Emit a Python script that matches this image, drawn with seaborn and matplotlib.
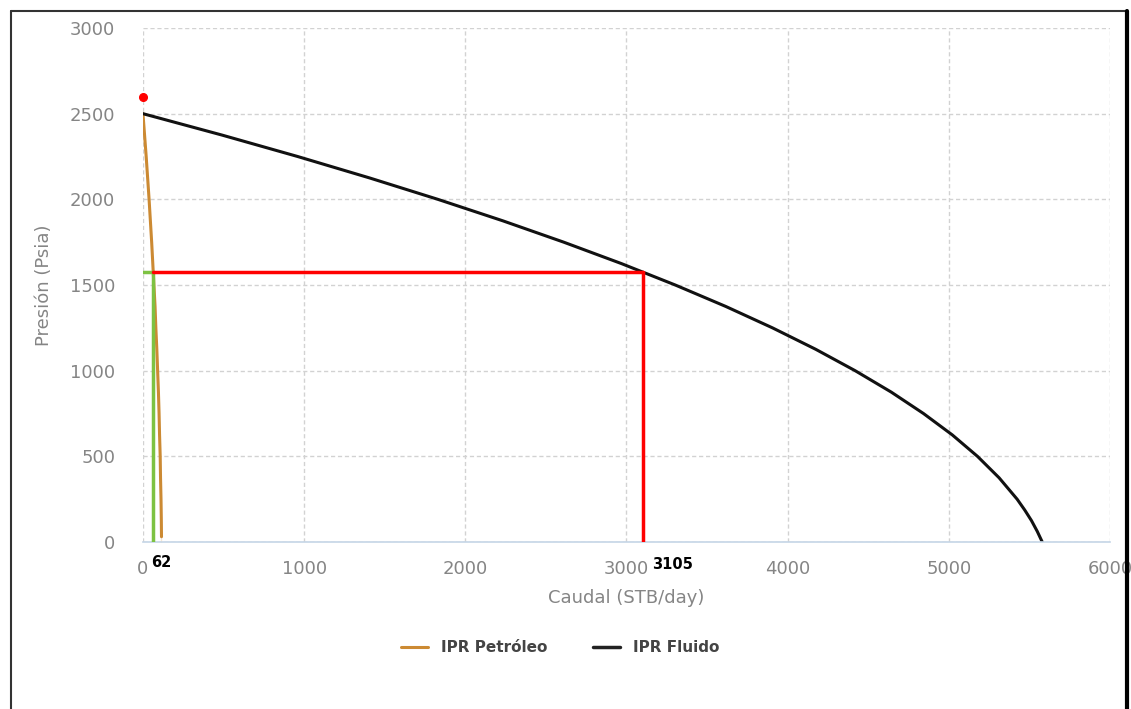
import numpy as np
import pandas as pd
import matplotlib
matplotlib.use('Agg')
import matplotlib.pyplot as plt
import seaborn as sns
from matplotlib.lines import Line2D

# IPR curves (pressure in psia, rate in STB/day)
pressure = [2500, 2375, 2250, 2125, 2000, 1875, 1750, 1625, 1500, 1375, 1250, 1125,
            1000, 875, 750, 625, 500, 375, 250, 187, 125, 62, 0]
q_fluid = [0, 491, 960, 1406, 1830, 2232, 2611, 2969, 3303, 3616, 3906, 4174,
           4419, 4643, 4843, 5022, 5178, 5312, 5424, 5471, 5513, 5549, 5580]
q_oil = [0, 10, 20, 29, 38, 46, 54, 61, 68, 75, 80, 86,
         91, 96, 100, 103, 107, 109, 112, 113, 114, 115, 115]

# operating point and reservoir pressure marker
p_wf = 1575
q_op_oil = 62
q_op_fluid = 3105
p_res_marker = 2600

x_ticks = [0, 1000, 2000, 3000, 4000, 5000, 6000]
y_ticks = [0, 500, 1000, 1500, 2000, 2500, 3000]

df = pd.DataFrame({'pressure': pressure, 'fluid': q_fluid, 'oil': q_oil})

sns.set_style('white')
plt.rcParams['font.family'] = ['DejaVu Sans']

fig = plt.figure(figsize=(11.31, 7.09), dpi=100)
ax = fig.add_axes([0.1264, 0.2355, 0.855, 0.725])

sns.lineplot(data=df, x='oil', y='pressure', sort=False, color='#cc8a33', lw=2.2, ax=ax, label='IPR Petróleo')
sns.lineplot(data=df, x='fluid', y='pressure', sort=False, color='#111111', lw=2.2, ax=ax, label='IPR Fluido')

# operating point lines
ax.plot([0, q_op_oil], [p_wf, p_wf], color='#7dc242', lw=2.5, zorder=4)
ax.plot([q_op_oil, q_op_oil], [0, p_wf], color='#7dc242', lw=2.5, zorder=4)
ax.plot([q_op_oil, q_op_fluid], [p_wf, p_wf], color='#ff0000', lw=2.5, zorder=4)
ax.plot([q_op_fluid, q_op_fluid], [0, p_wf], color='#ff0000', lw=2.5, zorder=4)
ax.plot([0], [p_res_marker], 'o', color='#ff0000', ms=5.5, zorder=5, clip_on=False)

ax.annotate(str(q_op_oil), xy=(q_op_oil, 0), xytext=(-1.5, -14.5), textcoords='offset points',
            ha='left', va='center', fontsize=10.5, fontweight='bold', color='black')
ax.annotate(str(q_op_fluid), xy=(q_op_fluid, 0), xytext=(6.5, -16.5), textcoords='offset points',
            ha='left', va='center', fontsize=10.5, fontweight='bold', color='black')

ax.set_xlim(0, 6000)
ax.set_ylim(0, 3000)
ax.set_xticks(x_ticks)
ax.set_yticks(y_ticks)
ax.grid(True, color='#d2d2d2', lw=1, dashes=(3, 2))
for s in ['top', 'right', 'left']:
    ax.spines[s].set_visible(False)
ax.spines['bottom'].set_color('#c5d5e6')
ax.spines['bottom'].set_linewidth(1.2)
ax.tick_params(axis='both', length=0, labelsize=13, labelcolor='#858585')
ax.tick_params(axis='y', pad=20)
ax.tick_params(axis='x', pad=13)
ax.set_xlabel('Caudal (STB/day)', fontsize=13, color='#858585', labelpad=8)
ax.set_ylabel('Presión (Psia)', fontsize=13, color='#858585', labelpad=12)

ax.get_legend().remove()
handles = [Line2D([0], [0], color='#cc8a33', lw=2.2), Line2D([0], [0], color='#222222', lw=2.5)]
leg = fig.legend(handles, ['IPR Petróleo', 'IPR Fluido'], loc='center', ncol=2,
                 bbox_to_anchor=(560 / 1131, 1 - 648 / 709), frameon=False,
                 prop={'weight': 'bold', 'size': 11}, handlelength=1.8, columnspacing=3)
for t in leg.get_texts():
    t.set_color('#444444')

# outer frame
fig.add_artist(Line2D([11 / 1131, 11 / 1131], [0, 1 - 11 / 709], transform=fig.transFigure, color='#333333', lw=1.5))
fig.add_artist(Line2D([11 / 1131, 1127 / 1131], [1 - 11 / 709, 1 - 11 / 709], transform=fig.transFigure, color='#333333', lw=1.5))
fig.add_artist(Line2D([1127 / 1131, 1127 / 1131], [0, 1 - 11 / 709], transform=fig.transFigure, color='black', lw=3))

fig.savefig('out.png', dpi=100)
